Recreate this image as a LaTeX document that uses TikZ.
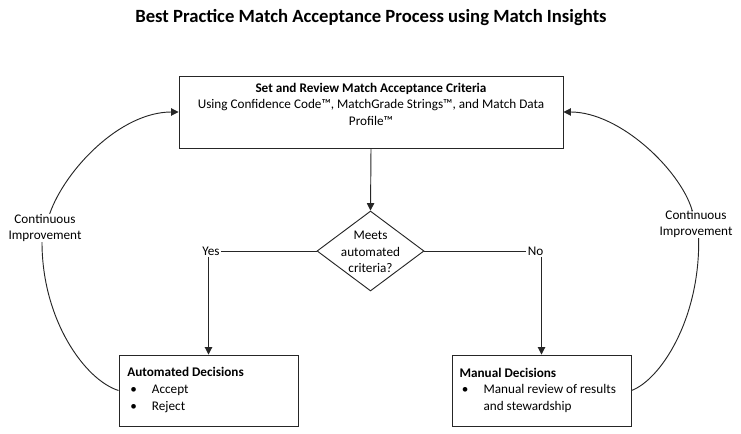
\documentclass[tikz,border=0pt]{standalone}
\usepackage{fontspec}
\setmainfont{Carlito}
\usetikzlibrary{shapes.geometric,arrows.meta}
\begin{document}
\begin{tikzpicture}[x=0.75pt,y=-0.75pt,
  box/.style={draw=black!85, line width=0.7pt, inner sep=0pt},
  txt/.style={font=\fontsize{9.9}{12.4}\selectfont, inner sep=0pt, align=center},
  conn/.style={draw=black!85, line width=0.7pt},
  arr/.style={conn, -{Triangle[length=5.5pt,width=5.5pt]}}]
\useasboundingbox (0,0) rectangle (741,434);
\node[font=\bfseries\fontsize{14}{16}\selectfont, inner sep=0pt] (title) at (371,18) {Best Practice Match Acceptance Process using Match Insights};
% top box
\node[box, minimum width=288pt, minimum height=54pt] (top) at (371,112) {};
\node[txt] (toptext) at (371,104) {\textbf{Set and Review Match Acceptance Criteria}\\Using Confidence Code™, MatchGrade Strings™, and Match Data\\Profile™};
% diamond
\node[box, diamond, minimum width=80.25pt, minimum height=60pt] (dia) at (370.5,251) {};
\node[txt] (diatext) at (370.5,252) {Meets\\automated\\criteria?};
% labels
\node[txt, fill=white, inner sep=1pt] (yes) at (211,251) {Yes};
\node[txt, fill=white, inner sep=1pt] (no) at (535.5,251) {No};
% bottom boxes
\node[box, minimum width=134.25pt, minimum height=53.25pt] (auto) at (208.5,390.5) {};
\node[txt, align=left, anchor=west] (autotext) at (127,390) {\textbf{Automated Decisions}\\\makebox[18.5pt][l]{\hspace{2.25pt}\textbullet}Accept\\\makebox[18.5pt][l]{\hspace{2.25pt}\textbullet}Reject};
\node[box, minimum width=134.25pt, minimum height=53.25pt] (man) at (541.5,390.5) {};
\node[txt, align=left, anchor=west] (mantext) at (459.3,390) {\textbf{Manual Decisions}\\\makebox[18pt][l]{\hspace{1.8pt}\textbullet}Manual review of results\\\hspace*{18pt}and stewardship};
% continuous improvement labels
\node[txt] (ciL) at (45,228) {Continuous\\Improvement};
\node[txt] (ciR) at (696,224) {Continuous\\Improvement};
% connectors
\draw[arr] (top.south) -- (dia.north);
\draw[conn] (dia.west) -- (yes.east);
\draw[conn] (dia.east) -- (no.west);
\draw[arr] (yes.south -| auto.north) -- (auto.north);
\draw[arr] (no.south -| man.north) -- (man.north);
\draw[conn] (auto.west) .. controls (85,380) and (42,320) .. ([xshift=-2.25pt]ciL.south);
\draw[arr] ([xshift=3.5pt]ciL.north) .. controls (65,170) and (120,112) .. (top.west);
\draw[conn] (man.east) .. controls (660,380) and (700,320) .. ([xshift=2pt]ciR.south);
\draw[arr] ([xshift=-3pt]ciR.north) .. controls (680,170) and (620,112) .. (top.east);
\end{tikzpicture}
\end{document}
